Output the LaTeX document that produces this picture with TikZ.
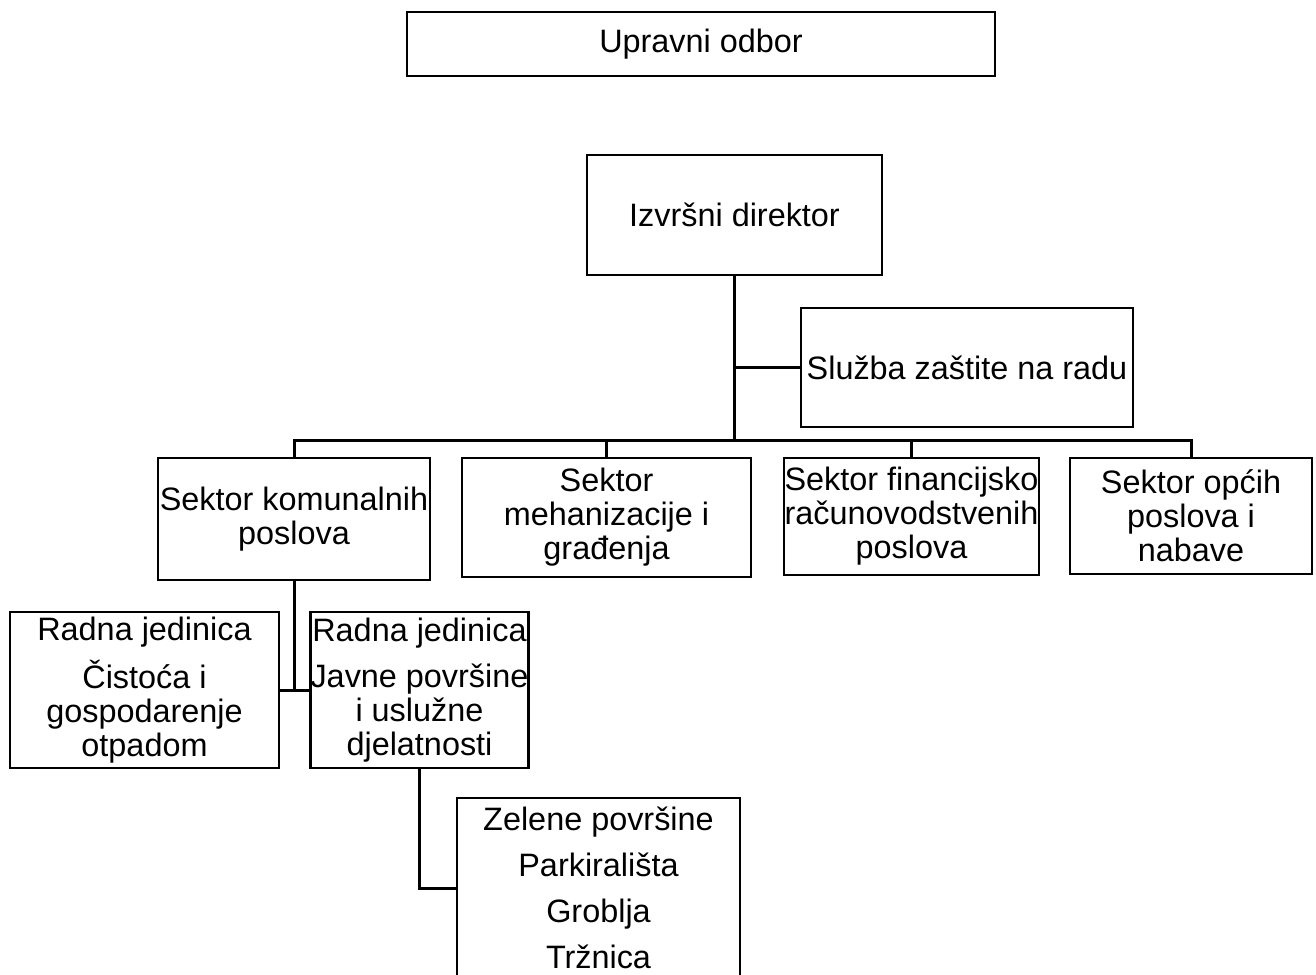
\documentclass[tikz,border=0pt]{standalone}
\usepackage{fontspec}
\setmainfont{Liberation Sans}
\begin{document}
\begin{tikzpicture}[
		x=1pt, y=-1pt,
		unit/.style={rectangle, draw=black, line width=2.9pt, inner sep=0pt, align=center, font=\fontsize{32.4}{34}\selectfont},
		link/.style={line width=3pt, black},
		thinlink/.style={line width=2.2pt, black}
		]
		\useasboundingbox (0,0) rectangle (1316,974);
		\clip (0,0) rectangle (1316,974);
		
		\node[unit, minimum width=588pt, minimum height=64pt] (board) at (701,44) {Upravni odbor};
		\node[unit, minimum width=295pt, minimum height=120pt] (dir) at (734.5,215) {Izvršni direktor};
		\node[unit, minimum width=332pt, minimum height=119pt] (szr) at (967,367.5) {Služba zaštite na radu};
		
		\node[unit, minimum width=272pt, minimum height=122pt] (sk1) at (294,519) {Sektor komunalnih\\poslova};
		\node[unit, minimum width=289pt, minimum height=119pt] (sk2) at (606.5,517.5) {Sektor\\mehanizacije i\\građenja};
		\node[unit, minimum width=255pt, minimum height=117pt] (sk3) at (911.5,516.5) {Sektor financijsko\\računovodstvenih\\poslova};
		\node[unit, minimum width=242pt, minimum height=116pt] (sk4) at (1191,516) {Sektor općih\\poslova i\\nabave};
		
		\node[unit, minimum width=269pt, minimum height=156pt] (rj1) at (144.5,690) {Radna jedinica\\[12pt]Čistoća i\\gospodarenje\\otpadom};
		\node[unit, minimum width=217pt, minimum height=156pt] (rj2) at (419.5,690) {Radna jedinica\\[12pt]Javne površine\\i uslužne\\djelatnosti};
		\node[unit, minimum width=283pt, minimum height=180pt] (zel) at (598.5,888) {Zelene površine\\[12pt]Parkirališta\\[12pt]Groblja\\[12pt]Tržnica};
		
		\coordinate (bus) at (734.5,440);
		
		\draw[link] (dir.south) -- (bus);
		\draw[thinlink] (bus |- szr.west) -- (szr.west);
		\draw[link] (sk1.north) -- (sk1.north |- bus) -- (sk4.north |- bus) -- (sk4.north);
		\draw[link] (sk2.north) -- (sk2.north |- bus);
		\draw[link] (sk3.north) -- (sk3.north |- bus);
		
		\draw[link] (sk1.south) -- (sk1.south |- rj1.east);
		\draw[link] (rj1.east) -- (rj2.west);
		\draw[link] (rj2.south) |- (zel.west);
		
	\end{tikzpicture}
\end{document}
